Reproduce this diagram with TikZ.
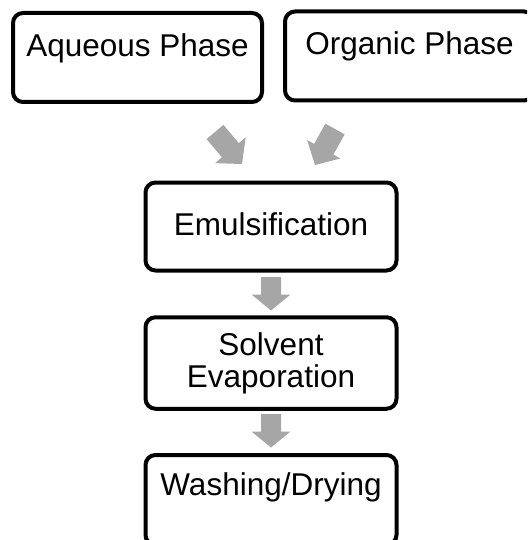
\documentclass[tikz,border=0pt]{standalone}
\usepackage{fontspec}
\setmainfont{Liberation Sans}
\usetikzlibrary{calc}
\definecolor{arrowgray}{RGB}{166,166,166}
\newcommand\blockarrow[5]{% tail, tip, shaft half-width, head half-width, head length
  \coordinate (ba-b) at ($(#2)!#5!(#1)$);
  \fill[arrowgray] ($(#1)!#3!90:(#2)$) -- ($(ba-b)!#3!90:(#2)$) -- ($(ba-b)!#4!90:(#2)$)
    -- (#2) -- ($(ba-b)!#4!-90:(#2)$) -- ($(ba-b)!#3!-90:(#2)$) -- ($(#1)!#3!-90:(#2)$) -- cycle;}
\begin{document}
\begin{tikzpicture}[x=1pt,y=-1pt,
  box/.style={draw=black, line width=4pt, rounded corners=10pt, inner sep=0pt,
    font=\fontsize{31.5}{32}\selectfont}]
\useasboundingbox (0,0) rectangle (527,540);
\fill[white] (0,0) rectangle (527,540);
\clip (0,0) rectangle (527,540);
\node[box, minimum width=249pt, minimum height=89pt, text height=12pt, text depth=13pt] (aq) at (137.5,57.5) {Aqueous Phase};
\node[box, minimum width=249pt, minimum height=89pt, text height=12pt, text depth=14pt] (org) at (409.5,56) {Organic Phase};
\node[box, minimum width=251pt, minimum height=88pt, text height=23pt, text depth=6pt] (em) at (271,226.5) {Emulsification};
\node[box, minimum width=251pt, minimum height=91.5pt, align=center] (se) at (271,363) {Solvent\\Evaporation};
\node[box, minimum width=251pt, minimum height=90pt, text height=12pt, text depth=22pt] (wd) at (271,500) {Washing/Drying};
% block arrows
\coordinate (l1) at (215,132); \coordinate (l2) at (242,164);
\coordinate (r1) at (335,129); \coordinate (r2) at (315,165);
\coordinate (v1) at (271,277); \coordinate (v2) at (271,310.5);
\coordinate (w1) at (271,414); \coordinate (w2) at (271,447.5);
\blockarrow{l1}{l2}{11pt}{20pt}{18pt}
\blockarrow{r1}{r2}{11pt}{19pt}{18pt}
\blockarrow{v1}{v2}{10pt}{19.5pt}{16pt}
\blockarrow{w1}{w2}{10pt}{19.5pt}{16pt}
\end{tikzpicture}
\end{document}
